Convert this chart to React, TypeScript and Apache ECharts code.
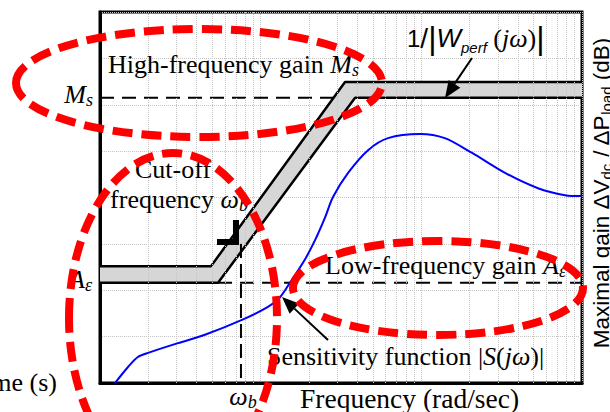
import { useEffect, useRef } from "react";
import * as echarts from "echarts";

// Axes: frequency on a log scale (rad/s), gain in dB
const FREQ_MIN = 1;
const FREQ_MAX = 1000;
const GAIN_MIN = -40;
const GAIN_MAX = 40;
const GAIN_STEP = 10;

// Sensitivity function |S(jω)|
const sensFreq = [1.24, 1.49, 1.72, 1.99, 3.06, 4.5, 7.65, 11.1, 13.2, 15.2, 18.9, 21.8, 25.1, 28.2, 35.0, 46.6, 62.0, 98.1, 140, 207, 332, 532, 784, 1000];
const sensGain = [-40, -36.6, -34.4, -33.5, -31.4, -29.6, -26.4, -23.6, -21.5, -18.4, -13.3, -9.2, -4.4, 0.1, 5.3, 10.2, 12.8, 13.7, 12.8, 9.6, 5.3, 2.0, 0.5, 0.3];

// Inverse performance weight 1/|W_perf(jω)|, drawn as a band
const weightUpperFreq = [1, 4.91, 33.5, 1000];
const weightUpperGain = [-14.8, -14.8, 24.9, 24.9];
const weightLowerFreq = [1, 5.43, 38.7, 1000];
const weightLowerGain = [-18.4, -18.4, 21.5, 21.5];

// Design parameters
const HIGH_FREQ_GAIN = 21.5; // M_s
const LOW_FREQ_GAIN = -18.4; // A_ε
const CUTOFF_FREQ = 7.54; // ω_b
const CUTOFF_MARK_TOP = -10;

// Corner mark at the cut-off frequency
const cornerFreq = [5.35, 7.02, 7.02];
const cornerGain = [-9.6, -9.6, -4.85];

// Log grid: decades and the minor steps within each
const decades = [1, 10, 100];
const minorSteps = [2, 3, 4, 5, 6, 7, 8, 9];

const pairs = (xs: number[], ys: number[]) => xs.map((x, i) => [x, ys[i]]);

const SERIF = "'Liberation Serif', 'Times New Roman', serif";
const SANS = "'Liberation Sans', Arial, sans-serif";
const FS = 26;

const makeRich = (size: number) => ({
  r: { fontFamily: SERIF, fontSize: size, lineHeight: 30, fill: "#000" },
  i: { fontFamily: SERIF, fontSize: size, fontStyle: "italic", lineHeight: 30, fill: "#000" },
  s: { fontFamily: SERIF, fontSize: 18, fontStyle: "italic", lineHeight: 14, verticalAlign: "bottom", fill: "#000" },
});

const label = (text: string, x: number, y: number, align: string, size = FS) => ({
  type: "text",
  x,
  y,
  z: 50,
  style: { text, rich: makeRich(size), textAlign: align, textVerticalAlign: "middle", fill: "#000" },
});

function arrow(x1: number, y1: number, x2: number, y2: number, head: number, half: number) {
  const dx = x2 - x1;
  const dy = y2 - y1;
  const len = Math.hypot(dx, dy);
  const ux = dx / len;
  const uy = dy / len;
  const bx = x2 - head * ux;
  const by = y2 - head * uy;
  const px = -uy;
  const py = ux;
  return [
    { type: "line", z: 60, shape: { x1, y1, x2: bx, y2: by }, style: { stroke: "#000", lineWidth: 2 } },
    {
      type: "polygon",
      z: 60,
      shape: { points: [[x2, y2], [bx + half * px, by + half * py], [bx - half * px, by - half * py]] },
      style: { fill: "#000" },
    },
  ];
}

const ring = (cx: number, cy: number, rx: number, ry: number) => ({
  type: "ellipse",
  z: 100,
  shape: { cx, cy, rx, ry },
  style: { fill: "none", stroke: "#ff0000", lineWidth: 8, lineDash: [20, 9] },
});

export default function App() {
  const ref = useRef<HTMLDivElement>(null);

  useEffect(() => {
    if (!ref.current) return;
    const chart = echarts.init(ref.current, undefined, { renderer: "svg" });

    const minorGrid = decades.flatMap((d) => minorSteps.map((k) => ({ xAxis: d * k })));
    const upper = pairs(weightUpperFreq, weightUpperGain);
    const lower = pairs(weightLowerFreq, weightLowerGain);

    const gridLine = { color: "#c4c4c4", width: 1, type: "dotted" as const };

    chart.setOption({
      animation: false,
      backgroundColor: "#fff",
      grid: {
        left: 100,
        top: 12,
        width: 482,
        height: 371,
        show: true,
        borderColor: "#000",
        borderWidth: 3,
        backgroundColor: "transparent",
        outerBoundsMode: "none",
      },
      xAxis: {
        type: "log",
        min: FREQ_MIN,
        max: FREQ_MAX,
        logBase: 10,
        axisLine: { show: true, onZero: false, lineStyle: { color: "#000", width: 3 } },
        axisTick: { show: false },
        axisLabel: { show: false },
        splitLine: { show: true, lineStyle: gridLine },
      },
      yAxis: {
        type: "value",
        min: GAIN_MIN,
        max: GAIN_MAX,
        interval: GAIN_STEP,
        axisLine: { show: true, onZero: false, lineStyle: { color: "#000", width: 3 } },
        axisTick: { show: false },
        axisLabel: { show: false },
        splitLine: { show: true, lineStyle: gridLine },
      },
      series: [
        {
          name: "minor-grid",
          type: "line",
          z: 1,
          data: [[FREQ_MIN, GAIN_MIN - 100]],
          showSymbol: false,
          silent: true,
          markLine: {
            silent: true,
            symbol: "none",
            label: { show: false },
            lineStyle: gridLine,
            data: minorGrid,
          },
        },
        {
          name: "Ms",
          type: "line",
          z: 2,
          data: [[FREQ_MIN, HIGH_FREQ_GAIN], [weightLowerFreq[2], HIGH_FREQ_GAIN]],
          showSymbol: false,
          lineStyle: { color: "#000", width: 2, type: [14, 8] },
        },
        {
          name: "weight-band",
          type: "custom",
          z: 3,
          clip: true,
          data: [[FREQ_MIN, 0]],
          renderItem: (_params: any, api: any) => {
            const pts = [...upper, ...lower.slice().reverse()].map((p) => api.coord(p));
            return { type: "polygon", shape: { points: pts }, style: { fill: "#d6d6d6", stroke: "none" } };
          },
        },
        {
          name: "weight-upper",
          type: "line",
          z: 4,
          data: upper,
          showSymbol: false,
          lineStyle: { color: "#000", width: 2.5 },
        },
        {
          name: "weight-lower",
          type: "line",
          z: 4,
          data: lower,
          showSymbol: false,
          lineStyle: { color: "#000", width: 2.5 },
        },
        {
          name: "A-eps",
          type: "line",
          z: 4,
          data: [[weightLowerFreq[1], LOW_FREQ_GAIN], [FREQ_MAX, LOW_FREQ_GAIN]],
          showSymbol: false,
          lineStyle: { color: "#000", width: 2, type: [14, 8] },
        },
        {
          name: "omega-b",
          type: "line",
          z: 4,
          data: [[CUTOFF_FREQ, CUTOFF_MARK_TOP], [CUTOFF_FREQ, GAIN_MIN]],
          showSymbol: false,
          lineStyle: { color: "#000", width: 2, type: [14, 6] },
        },
        {
          name: "corner",
          type: "line",
          z: 5,
          data: pairs(cornerFreq, cornerGain),
          showSymbol: false,
          lineStyle: { color: "#000", width: 6, cap: "butt", join: "miter" },
        },
        {
          name: "|S(jω)|",
          type: "line",
          z: 6,
          data: pairs(sensFreq, sensGain),
          showSymbol: false,
          smooth: 0.3,
          lineStyle: { color: "#0000ff", width: 2 },
        },
      ],
      graphic: {
        elements: [
          label("{r|High-frequency gain }{i|M}{s|s}", 108, 64, "left"),
          label("{i|M}{s|s}", 93, 94, "right"),
          label("{r|Cut-off}", 173, 169, "center"),
          label("{r|frequency }{i|ω}{s|b}", 179, 199, "center"),
          label("{i|A}{s|ε}", 92, 279, "right"),
          label("{r|Low-frequency gain }{i|A}{s|ε}", 325, 265, "left"),
          label("{r|Sensitivity function |}{i|S}{r|(}{i|jω}{r|)|}", 267, 356, "left"),
          label("{r|Frequency (rad/sec)}", 300, 398, "left", 27.5),
          label("{i|ω}{s|b}", 243, 396, "center"),
          label("{r|Time (s)}", 57, 382, "right"),
          {
            type: "text",
            x: 407,
            y: 38,
            z: 50,
            style: {
              text: "{n|1}{sl|/}{b||}{w|W}{ws|perf}{p| (}{pi|jω}{p|)}{b||}",
              textAlign: "left",
              textVerticalAlign: "middle",
              fill: "#000",
              rich: {
                n: { fontFamily: SANS, fontSize: 24, lineHeight: 34, fill: "#000" },
                sl: { fontFamily: SANS, fontSize: 28, lineHeight: 34, fill: "#000" },
                b: { fontFamily: SANS, fontSize: 32, lineHeight: 34, fill: "#000" },
                w: { fontFamily: SANS, fontSize: 26, fontStyle: "italic", lineHeight: 34, fill: "#000" },
                ws: { fontFamily: SANS, fontSize: 15, fontStyle: "italic", lineHeight: 18, verticalAlign: "bottom", fill: "#000" },
                p: { fontFamily: SERIF, fontSize: 26, lineHeight: 34, fill: "#000" },
                pi: { fontFamily: SERIF, fontSize: 26, fontStyle: "italic", lineHeight: 34, fill: "#000" },
              },
            },
          },
          {
            type: "text",
            x: 601,
            y: 193,
            rotation: Math.PI / 2,
            z: 50,
            style: {
              text: "{n|Maximal gain ΔV}{s|dc}{n| / ΔP}{s|load}{n| (dB)}",
              textAlign: "center",
              textVerticalAlign: "middle",
              fill: "#000",
              rich: {
                n: { fontFamily: SANS, fontSize: 22.5, lineHeight: 26, fill: "#000" },
                s: { fontFamily: SANS, fontSize: 15, lineHeight: 12, verticalAlign: "bottom", fill: "#000" },
              },
            },
          },
          ...arrow(472, 58, 445, 98, 17, 7),
          ...arrow(328, 340, 282, 297, 17, 7),
          ring(199, 83, 183, 54),
          ring(173, 318, 104, 165),
          ring(438, 288, 145, 47),
        ],
      },
    });

    return () => chart.dispose();
  }, []);

  return (
    <div
      ref={ref}
      style={{ position: "fixed", left: 0, top: 0, width: 610, height: 412, background: "#fff" }}
    />
  );
}
